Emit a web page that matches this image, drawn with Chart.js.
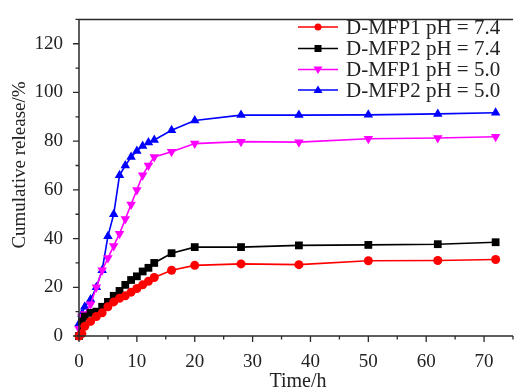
<!DOCTYPE html>
<html>
<head>
<meta charset="utf-8">
<script src="https://cdn.jsdelivr.net/npm/chart.js@4/dist/chart.umd.min.js"></script>
<style>
  html, body { margin: 0; padding: 0; background: #fff; overflow: hidden; }
  #wrap { width: 520px; height: 391px; position: relative; }
</style>
</head>
<body>
<div id="wrap"><canvas id="c" width="520" height="391"></canvas></div>
<script>
// Time points (h)
const timeH = [0, 0.5, 1, 2, 3, 4, 5, 6, 7, 8, 9, 10, 11, 12, 13, 16, 20, 28, 38, 50, 62, 72];
// Cumulative release (%)
const mfp1_pH74 = [0, 1, 4, 6, 8, 9.5, 12, 14, 15.5, 16.5, 18, 19.5, 21, 22.5, 24, 27, 29, 29.6, 29.3, 30.9, 31, 31.4];
const mfp2_pH74 = [0, 6, 8, 9.5, 10, 12, 14, 16.5, 18.5, 21, 23, 24.5, 26.5, 28, 30, 34, 36.5, 36.5, 37.2, 37.4, 37.7, 38.5];
const mfp1_pH50 = [3, 8, 9, 13, 20, 27, 32, 37, 42, 48, 54, 60, 66, 70, 73.5, 75.7, 79, 79.8, 79.6, 81, 81.3, 81.8];
const mfp2_pH50 = [5, 9, 12, 15, 20, 27, 41, 50, 66, 70, 73.5, 76, 78, 79.5, 80.5, 84.5, 88.5, 90.7, 90.7, 90.8, 91.2, 91.7];
const seriesLabels = ['D-MFP1 pH = 7.4', 'D-MFP2 pH = 7.4', 'D-MFP1 pH = 5.0', 'D-MFP2 pH = 5.0'];
const yTickValues = [0, 20, 40, 60, 80, 100, 120];
const xTickValues = [0, 10, 20, 30, 40, 50, 60, 70];
const yTitle = 'Cumulative release/%';
const xTitle = 'Time/h';

const FONT = "'Liberation Serif', 'Times New Roman', serif";
const AXIS = '#2a2a2a';
const TEXT = '#222';

function pts(arr) { return timeH.map((t, i) => ({ x: t, y: arr[i] })); }

const styles = [
  { color: '#ff0000', pointStyle: 'circle', r: 4.5, rot: 0 },
  { color: '#000000', pointStyle: 'rect', r: 5.5, rot: 0 },
  { color: '#ff00ff', pointStyle: 'triangle', r: 5.5, rot: 180 },
  { color: '#0000ff', pointStyle: 'triangle', r: 5.5, rot: 0 }
];
const seriesData = [mfp1_pH74, mfp2_pH74, mfp1_pH50, mfp2_pH50];

const datasets = seriesData.map((arr, i) => ({
  label: seriesLabels[i],
  data: pts(arr),
  borderColor: styles[i].color,
  backgroundColor: styles[i].color,
  pointBackgroundColor: styles[i].color,
  pointBorderColor: styles[i].color,
  pointStyle: styles[i].pointStyle,
  pointRadius: styles[i].r,
  pointRotation: styles[i].rot,
  pointBorderWidth: 0,
  borderWidth: 1.6,
  tension: 0
}));

const axesPlugin = {
  id: 'axesPlugin',
  afterDraw(chart) {
    const ctx = chart.ctx;
    const a = chart.chartArea;
    const xs = chart.scales.x, ys = chart.scales.y;
    ctx.save();
    ctx.strokeStyle = AXIS;
    ctx.lineWidth = 1.5;
    ctx.beginPath();
    ctx.moveTo(a.left, a.top); ctx.lineTo(a.left, a.bottom);
    ctx.moveTo(a.left, a.bottom); ctx.lineTo(a.right, a.bottom);
    ctx.moveTo(a.left, a.top); ctx.lineTo(a.right, a.top);
    ctx.stroke();
    ctx.lineWidth = 1.3;
    ctx.beginPath();
    ys.ticks.forEach(t => {
      const y = ys.getPixelForValue(t.value);
      const len = (t.value % 20 === 0) ? 6 : 3.5;
      ctx.moveTo(a.left - len, y); ctx.lineTo(a.left, y);
    });
    xs.ticks.forEach(t => {
      const x = xs.getPixelForValue(t.value);
      const len = (t.value % 10 === 0) ? 6 : 3.5;
      ctx.moveTo(x, a.bottom); ctx.lineTo(x, a.bottom + len);
    });
    ctx.stroke();

    // axis titles
    ctx.fillStyle = TEXT;
    ctx.font = '19px ' + FONT;
    ctx.textAlign = 'center';
    ctx.textBaseline = 'middle';
    ctx.save();
    ctx.translate(20, 165);
    ctx.rotate(-Math.PI / 2);
    ctx.fillText(yTitle, 0, 0);
    ctx.restore();
    ctx.font = '20px ' + FONT;
    ctx.fillText(xTitle, 298, 382);

    // legend
    const lx0 = 298, lx1 = 338, tx = 346;
    const rowY = [27, 48.5, 69.5, 90];
    ctx.font = '21px ' + FONT;
    ctx.textBaseline = 'middle';
    ctx.textAlign = 'left';
    chart.data.datasets.forEach((ds, i) => {
      const y = rowY[i];
      ctx.strokeStyle = ds.borderColor;
      ctx.lineWidth = 1.6;
      ctx.beginPath(); ctx.moveTo(lx0, y); ctx.lineTo(lx1, y); ctx.stroke();
      ctx.fillStyle = ds.borderColor;
      const cx = (lx0 + lx1) / 2;
      const st = styles[i];
      ctx.beginPath();
      if (st.pointStyle === 'circle') {
        ctx.arc(cx, y, 3.5, 0, Math.PI * 2);
      } else if (st.pointStyle === 'rect') {
        ctx.rect(cx - 3.5, y - 3.5, 7, 7);
      } else if (st.rot === 180) {
        ctx.moveTo(cx - 4.5, y - 3); ctx.lineTo(cx + 4.5, y - 3); ctx.lineTo(cx, y + 4.5);
      } else {
        ctx.moveTo(cx - 4.5, y + 3); ctx.lineTo(cx + 4.5, y + 3); ctx.lineTo(cx, y - 4.5);
      }
      ctx.closePath();
      ctx.fill();
      ctx.fillStyle = TEXT;
      ctx.fillText(ds.label, tx, y + 1);
    });
    ctx.restore();
  }
};

new Chart(document.getElementById('c'), {
  type: 'line',
  data: { datasets },
  options: {
    responsive: false,
    animation: false,
    clip: false,
    layout: { padding: { top: 12, right: 3, left: 0, bottom: 0 } },
    plugins: { legend: { display: false }, tooltip: { enabled: false } },
    scales: {
      x: {
        type: 'linear',
        min: 0, max: 75,
        grid: { display: false },
        border: { display: false },
        ticks: {
          stepSize: 5,
          autoSkip: false,
          maxRotation: 0,
          padding: 7,
          color: TEXT,
          font: { family: FONT, size: 19 },
          callback: v => xTickValues.includes(v) ? String(v) : ''
        },
        afterFit: s => { s.height = 55; }
      },
      y: {
        type: 'linear',
        min: 0, max: 130,
        grid: { display: false },
        border: { display: false },
        ticks: {
          stepSize: 10,
          autoSkip: false,
          padding: 8,
          color: TEXT,
          font: { family: FONT, size: 19 },
          callback: v => yTickValues.includes(v) ? String(v) : ''
        },
        afterFit: s => { s.width = 79; }
      }
    }
  },
  plugins: [axesPlugin]
});
</script>
</body>
</html>
